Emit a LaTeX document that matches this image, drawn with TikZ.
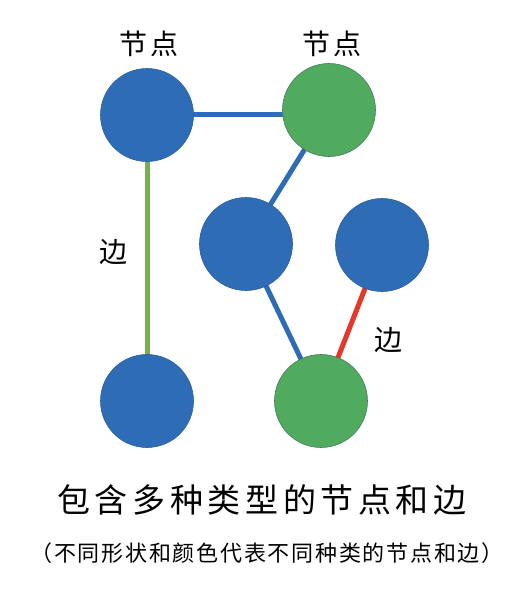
\documentclass[tikz,border=0pt]{standalone}
\usepackage{fontspec}
\usepackage{tikz}
\usetikzlibrary{backgrounds}
\newfontfamily\cjk[LetterSpace=8]{Noto Sans CJK SC}
\newfontfamily\cjkwide[LetterSpace=14]{Noto Sans CJK SC}
\definecolor{nblue}{HTML}{2E6DB6}
\definecolor{nblueline}{HTML}{2A5E9C}
\definecolor{ngreen}{HTML}{50AB5E}
\definecolor{ngreenline}{HTML}{4A7A60}
\definecolor{egreen}{HTML}{78AE52}
\definecolor{ered}{HTML}{E5372B}

\begin{document}
\begin{tikzpicture}[x=1pt,y=-1pt]
		\tikzstyle{node}=[circle,minimum size=93pt,inner sep=0pt,line width=0.6pt]
		\tikzstyle{bnode}=[node,fill=nblue,draw=nblueline]
		\tikzstyle{gnode}=[node,fill=ngreen,draw=ngreenline]
		\tikzstyle{edge}=[line width=5pt]
		\tikzstyle{lbl}=[font=\cjkwide\fontsize{28}{32}\selectfont,inner sep=0pt]
		\useasboundingbox (0,0) rectangle (512,591);
		\node[bnode] (a) at (147,115){};
		\node[gnode] (b) at (329,110){};
		\node[bnode] (c) at (246,244){};
		\node[bnode] (d) at (382,245){};
		\node[bnode] (e) at (147,401){};
		\node[gnode] (f) at (321,401){};
		\begin{scope}[on background layer]
			\fill[white] (0,0) rectangle (512,591);
			\draw[edge,nblue] (a.center) -- (a.center -| b.center);
			\draw[edge,egreen] (a.center) -- (e.center);
			\draw[edge,nblue] (b.center) -- (c.center);
			\draw[edge,nblue] (c.center) -- (f.center);
			\draw[edge,ered] (d.center) -- (f.center);
		\end{scope}
		\node[lbl] (la) at (149,44){节点};
		\node[lbl] (lb) at (332,44){节点};
		\node[lbl] (le1) at (113,252){边};
		\node[lbl] (le2) at (388,340){边};
		\node[font=\cjkwide\fontsize{33}{36}\selectfont,inner sep=0pt] (title) at (262,500){包含多种类型的节点和边};
		\node[font=\cjk\fontsize{22}{24}\selectfont,inner sep=0pt] (sub) at (267,553){（不同形状和颜色代表不同种类的节点和边）};
	\end{tikzpicture}
\end{document}
